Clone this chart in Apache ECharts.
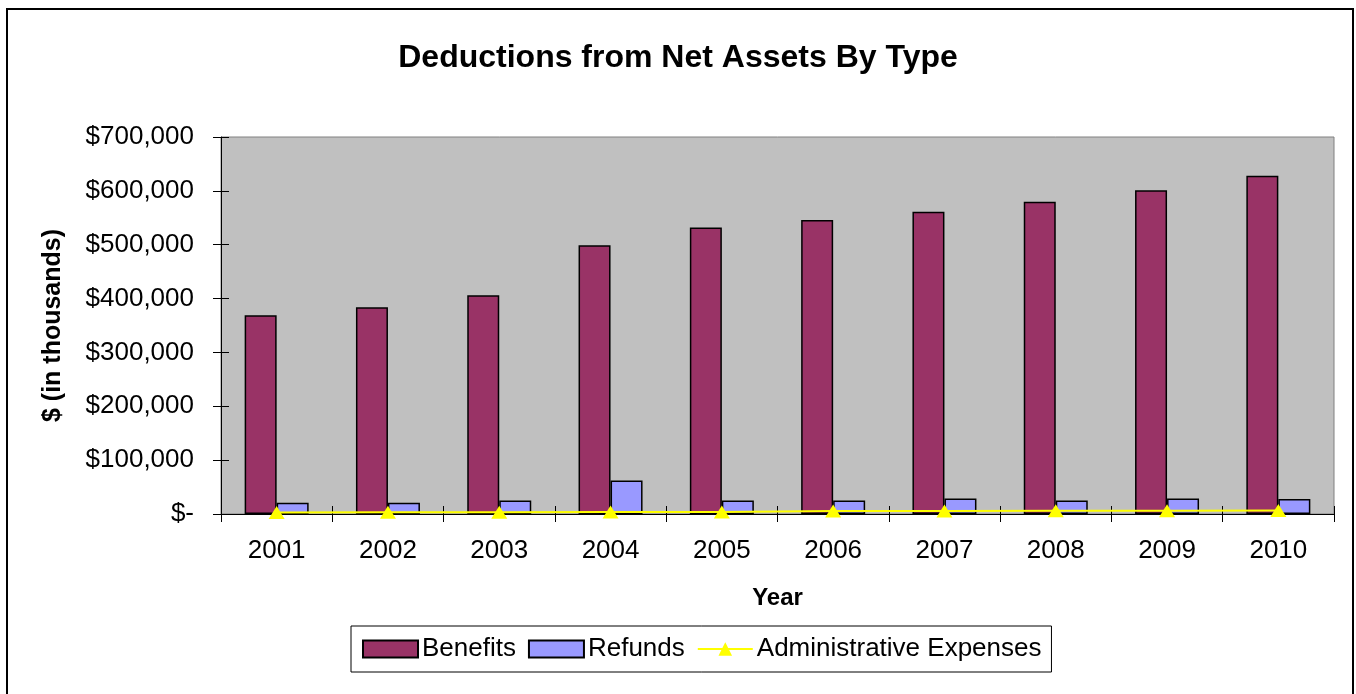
<!DOCTYPE html>
<html>
<head>
<meta charset="utf-8">
<script src="https://cdn.jsdelivr.net/npm/echarts@6/dist/echarts.min.js"></script>
<style>
  html, body { margin: 0; padding: 0; background: #fff; }
  #chart { width: 1356px; height: 694px; }
</style>
</head>
<body>
<div id="chart"></div>
<script>
// values ($ in thousands)
const years = ['2001', '2002', '2003', '2004', '2005', '2006', '2007', '2008', '2009', '2010'];
const benefits = [369000, 384000, 406000, 499000, 532000, 546000, 561000, 580000, 601000, 628000];
const refunds = [21000, 21000, 25000, 62000, 25000, 25000, 29000, 25000, 29000, 28000];
const adminExpenses = [3000, 3200, 3300, 3500, 3800, 5500, 5800, 6000, 6200, 6300];

const FONT = '"Liberation Sans", Arial, sans-serif';

const chart = echarts.init(document.getElementById('chart'));

// y labels like Excel accounting format
function moneyLabel(v) {
    if (v === 0) return '$-';
    return '$' + v.toLocaleString('en-US');
}

// shared tick style, the second axes only add the inner half of the cross ticks
const tickLine = { color: '#000', width: 1 };

chart.setOption({
    animation: false,
    title: {
        text: 'Deductions from Net Assets By Type',
        left: 'center',
        top: 37,
        textStyle: { fontFamily: FONT, fontSize: 32, fontWeight: 'bold', color: '#000' }
    },
    graphic: [{
        type: 'rect',
        shape: { x: 7, y: 9, width: 1346, height: 700 },
        style: { fill: 'none', stroke: '#000', lineWidth: 2 },
        silent: true
    }],
    legend: {
        left: 351,
        top: 626,
        orient: 'horizontal',
        borderColor: '#000',
        borderWidth: 1,
        padding: [10, 10, 10, 11],
        itemWidth: 55,
        itemHeight: 17,
        itemGap: 12,
        textStyle: { fontFamily: FONT, fontSize: 26, color: '#000', padding: [0, 0, 0, -1] },
        data: [
            { name: 'Benefits', icon: 'rect' },
            { name: 'Refunds', icon: 'rect' },
            { name: 'Administrative Expenses' }
        ]
    },
    grid: {
        left: 221,
        right: 22,
        top: 137,
        bottom: 180,
        show: true,
        backgroundColor: '#C0C0C0',
        borderColor: '#808080',
        borderWidth: 1
    },
    xAxis: [
        {
            type: 'category',
            data: years,
            name: 'Year',
            nameLocation: 'middle',
            nameGap: 72,
            nameTextStyle: { fontFamily: FONT, fontSize: 24, fontWeight: 'bold', color: '#000' },
            axisLine: { lineStyle: { color: '#000', width: 1 } },
            axisTick: { show: true, length: 8, lineStyle: tickLine },
            axisLabel: { fontFamily: FONT, fontSize: 26, color: '#000', margin: 24 }
        },
        {
            type: 'category',
            data: years,
            position: 'bottom',
            axisLine: { show: false },
            axisTick: { show: true, inside: true, length: 8, lineStyle: tickLine },
            axisLabel: { show: false }
        }
    ],
    yAxis: [
        {
            type: 'value',
            min: 0,
            max: 700000,
            interval: 100000,
            name: '$ (in thousands)',
            nameLocation: 'middle',
            nameGap: 155,
            nameTextStyle: { fontFamily: FONT, fontSize: 25, fontWeight: 'bold', color: '#000' },
            axisLine: { show: true, lineStyle: { color: '#000', width: 1 } },
            axisTick: { show: true, length: 8, lineStyle: tickLine },
            splitLine: { show: false },
            axisLabel: { fontFamily: FONT, fontSize: 26, color: '#000', margin: 27, formatter: moneyLabel }
        },
        {
            type: 'value',
            min: 0,
            max: 700000,
            interval: 100000,
            position: 'left',
            axisLine: { show: false },
            axisTick: { show: true, inside: true, length: 8, lineStyle: tickLine },
            splitLine: { show: false },
            axisLabel: { show: false }
        }
    ],
    series: [
        {
            name: 'Benefits',
            type: 'bar',
            data: benefits,
            barWidth: 32,
            barGap: '0%',
            itemStyle: { color: '#993366', borderColor: '#000', borderWidth: 1.5 }
        },
        {
            name: 'Refunds',
            type: 'bar',
            data: refunds,
            barWidth: 32,
            barGap: '0%',
            itemStyle: { color: '#9999FF', borderColor: '#000', borderWidth: 1.5 }
        },
        {
            name: 'Administrative Expenses',
            type: 'line',
            data: adminExpenses,
            symbol: 'triangle',
            symbolSize: [16, 13],
            z: 5,
            lineStyle: { color: '#FFFF00', width: 2 },
            itemStyle: { color: '#FFFF00' }
        }
    ]
});
</script>
</body>
</html>
